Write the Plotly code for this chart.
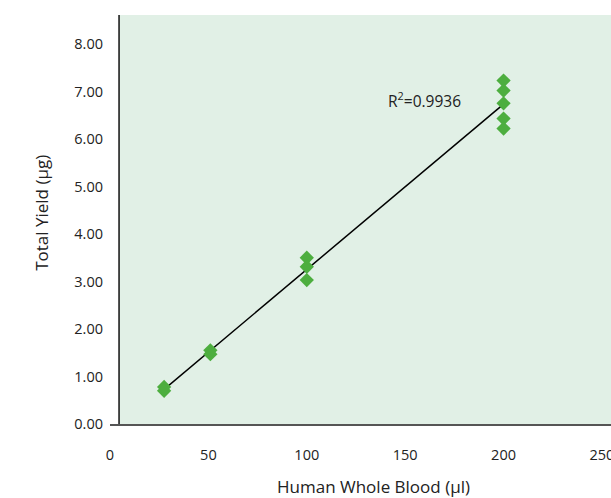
import numpy as np
import plotly.graph_objects as go

# Data
blood_ul = [27.5, 27.5, 51, 51, 100, 100, 100, 200, 200, 200, 200, 200]
yield_ug = [0.78, 0.70, 1.55, 1.47, 3.50, 3.31, 3.03, 7.23, 7.02, 6.75, 6.43, 6.22]
x_ticks = [0, 50, 100, 150, 200, 250]
y_ticks = [0, 1, 2, 3, 4, 5, 6, 7, 8]
r2_label = "R<sup>2</sup>=0.9936"
x_title = "Human Whole Blood (µl)"
y_title = "Total Yield (µg)"

x_min, x_max = 0, 254.6
y_min, y_max = 0, 8.61
y_axis_at = 4.6

slope, intercept = np.polyfit(blood_ul, yield_ug, 1)
fit_x = [min(blood_ul), max(blood_ul)]
fit_y = [slope * v + intercept for v in fit_x]

FONT = "'Open Sans', Lato, sans-serif"

fig = go.Figure()
fig.add_trace(go.Scatter(x=fit_x, y=fit_y, mode="lines",
                         line=dict(color="black", width=1.5), hoverinfo="skip"))
fig.add_trace(go.Scatter(x=blood_ul, y=yield_ug, mode="markers",
                         marker=dict(symbol="diamond", size=11, color="#4DAE3F", line=dict(width=0))))

fig.add_shape(type="rect", xref="x", yref="y", x0=y_axis_at, x1=x_max, y0=y_min, y1=y_max,
              fillcolor="#E1F0E6", line=dict(width=0), layer="below")
fig.add_shape(type="line", xref="x", yref="y", x0=y_axis_at, x1=y_axis_at, y0=y_min, y1=y_max,
              line=dict(color="#111111", width=1.5))

fig.add_annotation(x=160, y=6.82, xref="x", yref="y", text=r2_label, showarrow=False,
                   font=dict(size=15.5, color="#222222", family=FONT))
fig.add_annotation(x=0.525, y=-0.152, xref="paper", yref="paper", text=x_title, showarrow=False,
                   xanchor="center", yanchor="middle", font=dict(size=17, color="#222222", family=FONT))
fig.add_annotation(x=-0.136, y=0.516, xref="paper", yref="paper", text=y_title, showarrow=False,
                   textangle=-90, xanchor="center", yanchor="middle",
                   font=dict(size=17, color="#222222", family=FONT))

fig.update_layout(
    width=611, height=498,
    margin=dict(l=110, r=0, t=15, b=74, autoexpand=False),
    paper_bgcolor="white", plot_bgcolor="white",
    showlegend=False,
    font=dict(family=FONT, color="#222222", size=14.5),
    xaxis=dict(range=[x_min, x_max], tickvals=x_ticks, ticktext=[str(v) for v in x_ticks],
               showgrid=False, zeroline=False, showline=True, linecolor="#555555", linewidth=1.5,
               ticks="", ticklabelstandoff=17, automargin=False, ticklabeloverflow="allow"),
    yaxis=dict(range=[y_min, y_max], tickvals=y_ticks, ticktext=[f"{v:.2f}" for v in y_ticks],
               showgrid=False, zeroline=False, showline=False, ticks="", ticklabelstandoff=6,
               automargin=False),
)

fig.write_html("out.html", config={"displayModeBar": False},
               post_script="document.body.style.margin='0';document.body.style.overflow='hidden';")
